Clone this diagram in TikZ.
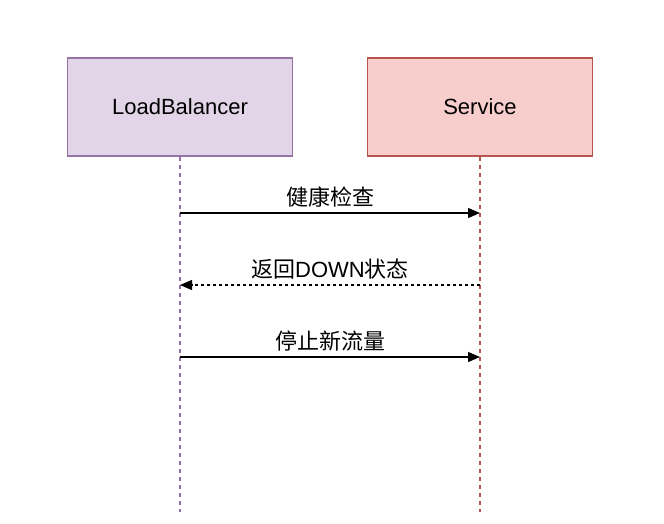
\documentclass[tikz,border=0pt]{standalone}
\usepackage{fontspec}
\setmainfont{Liberation Sans}
\newfontfamily\cjk{Noto Sans CJK SC}
\usepackage{tikz}
\usetikzlibrary{arrows.meta}
\usetikzlibrary{positioning}

\definecolor{lbfill}{HTML}{E1D5E7}
\definecolor{lbline}{HTML}{9673A6}
\definecolor{svcfill}{HTML}{F8CECC}
\definecolor{svcline}{HTML}{B85450}

\begin{document}
\begin{tikzpicture}[x=1pt, y=-1pt,
    actor/.style={draw, line width=1.2pt, minimum width=225pt, minimum height=98pt,
      font=\fontsize{22}{26}\selectfont},
    lifeline/.style={line width=1.2pt, dash pattern=on 4pt off 4pt},
    msg/.style={line width=1.3pt, -{Triangle[length=12pt, width=10pt]}},
    reply/.style={msg, dash pattern=on 3pt off 3pt},
    lbl/.style={font=\fontsize{22}{26}\selectfont, above=2pt}]
    \useasboundingbox (0, 0) rectangle (664, 524);

    \node [actor, fill=lbfill, draw=lbline] (lb) at (180, 107) {LoadBalancer};
    \node [actor, fill=svcfill, draw=svcline] (svc) at (480, 107) {Service};

    \coordinate (lbend) at (180, 512);
    \coordinate (svcend) at (480, 512);
    \draw [lifeline, lbline] (lb) -- (lbend);
    \draw [lifeline, svcline] (svc) -- (svcend);

    % messages
    \coordinate (lb1) at (180, 213);
    \coordinate (svc1) at (480, 213);
    \coordinate (lb2) at (180, 285);
    \coordinate (svc2) at (480, 285);
    \coordinate (lb3) at (180, 357);
    \coordinate (svc3) at (480, 357);

    \draw [msg] (lb1) -- (svc1) node [lbl, pos=0.5] (m1) {\cjk 健康检查};
    \draw [reply] (svc2) -- (lb2) node [lbl, pos=0.5] (m2) {{\cjk 返回}DOWN{\cjk 状态}};
    \draw [msg] (lb3) -- (svc3) node [lbl, pos=0.5] (m3) {\cjk 停止新流量};
  \end{tikzpicture}
\end{document}
